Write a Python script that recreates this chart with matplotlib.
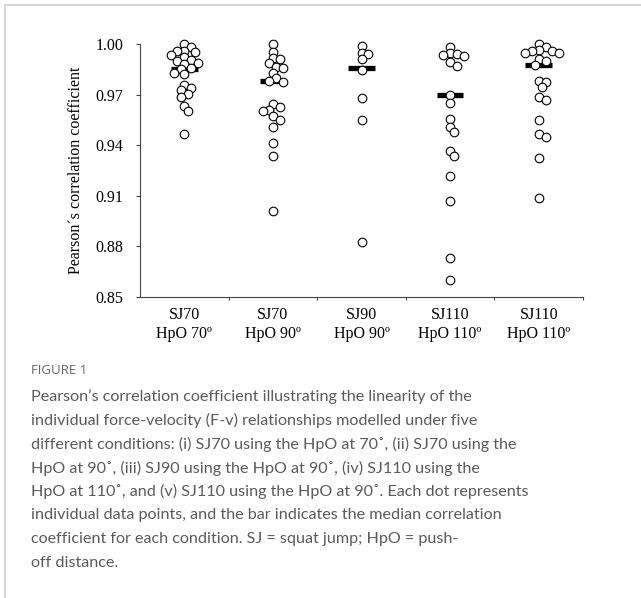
import matplotlib
matplotlib.use("Agg")
import matplotlib.pyplot as plt
import numpy as np
from matplotlib.lines import Line2D

# values (Pearson r per participant)
conditions = ["SJ70\nHpO 70º", "SJ70\nHpO 90º", "SJ90\nHpO 90º", "SJ110\nHpO 110º", "SJ110\nHpO 110º"]

sj70_hpo70 = [1.000, 0.998, 0.996, 0.9958, 0.995, 0.9935, 0.992, 0.9905, 0.990, 0.989,
              0.988, 0.9855, 0.985, 0.9826, 0.982, 0.9757, 0.974, 0.9727, 0.9704, 0.9686,
              0.963, 0.960, 0.9467]
sj70_hpo90 = [1.000, 0.9953, 0.9917, 0.991, 0.9887, 0.9864, 0.9858, 0.983, 0.980, 0.978,
              0.9775, 0.9644, 0.9627, 0.961, 0.9605, 0.9573, 0.955, 0.951, 0.9413, 0.9336,
              0.901]
sj90_hpo90 = [0.9988, 0.9947, 0.994, 0.991, 0.9846, 0.968, 0.955, 0.8826]
sj110_hpo110 = [0.9982, 0.9945, 0.994, 0.9935, 0.993, 0.9893, 0.987, 0.9698, 0.965, 0.9556,
                0.951, 0.948, 0.9366, 0.9336, 0.922, 0.907, 0.8731, 0.860]
sj110_hpo110b = [1.000, 0.998, 0.9964, 0.996, 0.9958, 0.9947, 0.9945, 0.991, 0.990, 0.9876,
                 0.978, 0.9775, 0.9745, 0.9686, 0.967, 0.955, 0.9467, 0.945, 0.9324, 0.9087]
groups = [sj70_hpo70, sj70_hpo90, sj90_hpo90, sj110_hpo110, sj110_hpo110b]
medians = [0.985, 0.978, 0.986, 0.970, 0.9876]

caption_lines = [
    "Pearson\u2019s correlation coefficient illustrating the linearity of the",
    "individual force-velocity (F-v) relationships modelled under five",
    "different conditions: (i) SJ70 using the HpO at 70\u02da, (ii) SJ70 using the",
    "HpO at 90\u02da, (iii) SJ90 using the HpO at 90\u02da, (iv) SJ110 using the",
    "HpO at 110\u02da, and (v) SJ110 using the HpO at 90\u02da. Each dot represents",
    "individual data points, and the bar indicates the median correlation",
    "coefficient for each condition. SJ = squat jump; HpO = push-",
    "off distance.",
]


def swarm_x(values, center, ax, diam_px, min_frac=0.7):
    """Simple beeswarm: push points sideways until they only partly overlap."""
    pts = ax.transData.transform([(center, v) for v in values])
    xc = pts[0, 0]
    step = diam_px * 0.4
    min_d = diam_px * min_frac
    placed = []
    xs = np.empty(len(values))
    for i in np.argsort(values)[::-1]:
        y = pts[i, 1]
        for k in range(60):
            cand = xc + ((k + 1) // 2) * step * (1 if k % 2 else -1)
            if all((cand - px) ** 2 + (y - py) ** 2 >= min_d ** 2 for px, py in placed):
                break
        placed.append((cand, y))
        xs[i] = cand
    back = ax.transData.inverted().transform(np.column_stack([xs, pts[:, 1]]))
    return back[:, 0]


W, H = 641, 598
fig = plt.figure(figsize=(W / 100, H / 100), dpi=100)
ax = fig.add_axes([140 / W, 1 - 297 / H, 443 / W, 253 / H])

ax.set_xlim(0, 5)
ax.set_ylim(0.85, 1.00)

serif = "Liberation Serif"
ms = 6.2
for i, vals in enumerate(groups):
    c = i + 0.5
    ax.plot([c - 0.15, c + 0.15], [medians[i]] * 2, color="black", lw=3.8,
            solid_capstyle="butt", zorder=2)
    xs = swarm_x(vals, c, ax, ms * 100 / 72)
    ax.plot(xs, vals, linestyle="none", marker="o", ms=ms, mfc="white",
            mec="black", mew=0.8, zorder=3, clip_on=False)

for s in ["top", "right"]:
    ax.spines[s].set_visible(False)
for s in ["left", "bottom"]:
    ax.spines[s].set_color("#444444")
    ax.spines[s].set_linewidth(0.8)

yt = np.arange(0.85, 1.0001, 0.03)
ax.set_yticks(yt)
ax.set_yticklabels([f"{v:.2f}" for v in yt], fontfamily=serif, fontsize=11.5)
ax.tick_params(axis="y", direction="out", length=3, width=0.8, color="#444444", pad=9)

ax.set_xticks([1, 2, 3, 4, 5])
ax.set_xticklabels([])
ax.tick_params(axis="x", which="major", direction="out", length=2.5, width=0.8, color="#444444")
ax.set_xticks([0.5, 1.5, 2.5, 3.5, 4.5], minor=True)
ax.set_xticklabels(conditions, minor=True, fontfamily=serif, fontsize=11.5, linespacing=1.3)
ax.tick_params(axis="x", which="minor", length=0, pad=7)

ax.set_ylabel("Pearson\u00b4s correlation coefficient", fontfamily=serif, fontsize=11.5, labelpad=8)

# card border
fig.add_artist(Line2D([5 / W, 1], [1 - 5 / H] * 2, transform=fig.transFigure,
                      color="#d6d6d6", lw=1.5))
fig.add_artist(Line2D([5 / W] * 2, [0, 1 - 5 / H], transform=fig.transFigure,
                      color="#d6d6d6", lw=1.5))

# caption
fig.text(31 / W, 1 - 371 / H, "FIGURE 1", fontfamily="Open Sans", fontsize=9.5,
         color="#666666", va="center", ha="left")
for k, line in enumerate(caption_lines):
    fig.text(31 / W, 1 - (397 + k * 23.7) / H, line, fontfamily="Lato",
             fontsize=11.6, color="#5a5a5a", va="center", ha="left")

fig.savefig("out.png", dpi=100)
